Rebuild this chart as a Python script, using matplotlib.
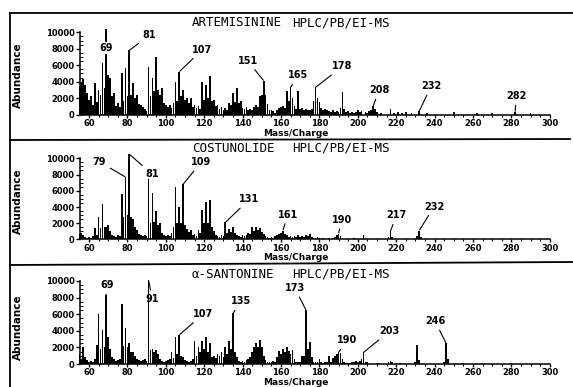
import matplotlib
matplotlib.use("Agg")
import matplotlib.pyplot as plt
from matplotlib.lines import Line2D
from matplotlib.ticker import MultipleLocator

# ------------------------- data -------------------------
mz_dense = list(range(55, 201))

art_dense = [3500, 4000, 4300, 3600, 2600, 1800, 2200, 1200, 3800, 1500,
             3000, 2400, 6300, 3200, 10400, 4800, 4400, 2200, 2600, 1000,
             1400, 900, 5100, 1600, 5600, 2200, 7800, 2400, 3800, 2000,
             2400, 1300, 1100, 900, 700, 400, 5800, 2200, 4500, 2800,
             7000, 3000, 2400, 3200, 1400, 1200, 900, 1100, 800, 1400,
             4000, 1700, 5200, 2200, 3000, 1800, 2000, 1400, 2000, 900,
             1200, 800, 1000, 700, 4000, 1800, 3600, 2000, 4700, 1600,
             1800, 1000, 1200, 700, 900, 600, 800, 600, 1400, 1200,
             2600, 1500, 3200, 1400, 1700, 800, 700, 900, 600, 700,
             500, 900, 1100, 900, 2200, 2400, 4100, 2400, 1300, 600,
             500, 400, 200, 600, 800, 900, 1000, 800, 2800, 1600,
             3300, 2000, 1000, 700, 2800, 700, 800, 600, 700, 500,
             600, 700, 1600, 3300, 2000, 1500, 800, 600, 700, 500,
             400, 300, 500, 300, 400, 300, 800, 2700, 700, 300,
             400, 200, 300, 200, 300, 500]
art_sparse_mz = [201, 202, 204, 205, 206, 207, 208, 209, 210, 212, 217, 219,
                 221, 223, 225, 228, 232, 236, 250, 262, 270, 282, 290]
art_sparse = [300, 400, 300, 200, 400, 600, 1000, 700, 300, 200, 700, 200,
              300, 200, 300, 200, 400, 200, 300, 200, 200, 300, 200]

cos_dense = [700, 800, 600, 300, 200, 300, 200, 400, 1400, 500,
             2800, 1400, 4400, 1500, 1600, 1800, 1000, 500, 400, 300,
             500, 400, 5600, 2800, 7700, 3000, 10500, 2800, 2500, 1500,
             1200, 700, 600, 400, 500, 400, 7500, 2000, 5700, 2200,
             3500, 1800, 2000, 800, 600, 400, 500, 400, 800, 1500,
             6500, 2000, 4000, 2000, 6800, 1800, 1300, 900, 1200, 500,
             700, 400, 1200, 800, 3600, 2000, 4600, 2000, 4900, 1500,
             1000, 500, 400, 300, 500, 400, 2100, 800, 1300, 900,
             1500, 800, 500, 400, 300, 500, 400, 600, 800, 700,
             1500, 1000, 1600, 1200, 1400, 900, 700, 400, 300, 200,
             300, 200, 400, 500, 700, 800, 1100, 700, 600, 300,
             400, 300, 400, 300, 500, 300, 400, 300, 600, 400,
             700, 300, 200, 200, 300, 200, 100, 200, 100, 100,
             200, 100, 200, 300, 500, 700, 400, 200, 100, 100,
             100, 100, 100, 200, 100, 100]
cos_sparse_mz = [203, 204, 210, 216, 217, 218, 224, 231, 232, 233, 240, 255, 270, 285]
cos_sparse = [500, 200, 100, 300, 1000, 300, 100, 400, 1100, 300, 100, 100, 100, 100]

san_dense = [1200, 600, 2000, 800, 500, 300, 400, 300, 600, 2300,
             6000, 1800, 4100, 2000, 8300, 3300, 1800, 800, 600, 400,
             500, 600, 7200, 2200, 4300, 2000, 2500, 1500, 1400, 1000,
             600, 500, 400, 500, 600, 400, 10100, 1700, 1800, 1500,
             1700, 1200, 600, 400, 300, 400, 500, 600, 1500, 700,
             3300, 1200, 3500, 1000, 900, 500, 400, 300, 400, 600,
             2800, 1000, 2000, 1500, 2800, 1800, 3300, 1500, 2500, 800,
             1000, 700, 1200, 1000, 1500, 800, 2000, 1200, 2800, 1800,
             6100, 1500, 800, 400, 300, 400, 300, 500, 600, 800,
             1500, 2000, 2500, 2000, 2900, 2000, 1000, 500, 300, 200,
             300, 400, 300, 800, 1600, 1200, 1800, 1500, 2000, 1600,
             1200, 1700, 600, 300, 200, 300, 1000, 1000, 6500, 1800,
             2600, 800, 300, 200, 300, 600, 200, 100, 200, 300,
             1000, 200, 700, 1000, 1200, 1400, 1300, 600, 200, 100,
             100, 100, 200, 300, 400, 300]
san_sparse_mz = [201, 202, 203, 204, 205, 210, 216, 217, 218, 222, 230, 231,
                 232, 245, 246, 247, 255, 265, 280]
san_sparse = [400, 600, 1400, 300, 200, 100, 300, 400, 200, 100, 200, 2300,
              500, 300, 2500, 600, 100, 100, 100]

compounds = ["ARTEMISININE", "COSTUNOLIDE", "\u03b1-SANTONINE"]
method = "HPLC/PB/EI-MS"
x_ticks = [60, 80, 100, 120, 140, 160, 180, 200, 220, 240, 260, 280, 300]
y_ticks = [0, 2000, 4000, 6000, 8000, 10000]

art_labels = [69, 81, 107, 151, 165, 178, 208, 232, 282]
cos_labels = [79, 81, 109, 131, 161, 190, 217, 232]
san_labels = [69, 91, 107, 135, 173, 190, 203, 246]

# ------------------------- layout -------------------------
W, H = 573, 387
fig = plt.figure(figsize=(W / 100, H / 100), dpi=100)
fig.patch.set_facecolor("white")

X_LEFT, X_RIGHT = 80, 550.3
XLIM = (55.3, 300.3)
panels = [  # baseline px, 10000 px, title y, abundance label y, mass label y
    dict(base=114.5, top=32.3, title=22.7, ylab=75, xlab=133.0),
    dict(base=239.5, top=158.3, title=148.3, ylab=201, xlab=258.0),
    dict(base=364.0, top=281.0, title=274.3, ylab=327, xlab=382.2),
]

offsets = [
    {69: (0, -19), 81: (20, 15), 107: (23, 22), 151: (-16, 20), 165: (7, 12),
     178: (27, 21), 208: (6, 16), 232: (12, 25), 282: (1, 16)},
    {79: (-26, 15), 81: (23, -20), 109: (18, 22), 131: (24, 23), 161: (5, 16),
     190: (3, 14), 217: (6, 16), 232: (15, 24)},
    {69: (1, 10), 91: (4, -19), 107: (24, 21), 135: (8, 12), 173: (-11, 22),
     190: (8, 12), 203: (26, 21), 246: (-11, 22)},
]

spectra = [
    (mz_dense + art_sparse_mz, art_dense + art_sparse, art_labels),
    (mz_dense + cos_sparse_mz, cos_dense + cos_sparse, cos_labels),
    (mz_dense + san_sparse_mz, san_dense + san_sparse, san_labels),
]

tick_font = dict(family="DejaVu Sans", weight="bold", size=6.0)

for i, (p, (mz, ab, labs)) in enumerate(zip(panels, spectra)):
    ax = fig.add_axes([X_LEFT / W, 1 - p["base"] / H,
                       (X_RIGHT - X_LEFT) / W, (p["base"] - p["top"]) / H])
    ax.patch.set_alpha(0)
    bars = ax.bar(mz, ab, width=0.9, color="black", linewidth=0, zorder=2)
    for b in bars:
        b.set_clip_on(False)
    ax.set_xlim(*XLIM)
    ax.set_ylim(0, 10000)
    ax.spines["top"].set_visible(False)
    ax.spines["right"].set_visible(False)
    ax.spines["left"].set_bounds(0, 10000)
    for s in ("left", "bottom"):
        ax.spines[s].set_linewidth(1.1)
    ax.set_xticks(x_ticks)
    ax.set_xticklabels([str(t) for t in x_ticks], **tick_font)
    ax.set_yticks(y_ticks)
    ax.set_yticklabels([str(t) for t in y_ticks], **tick_font)
    ax.xaxis.set_minor_locator(MultipleLocator(5))
    ax.yaxis.set_minor_locator(MultipleLocator(500))
    ax.tick_params(axis="x", which="major", direction="out", length=2, width=1, pad=1)
    ax.tick_params(axis="x", which="minor", direction="out", length=1.3, width=0.8)
    ax.tick_params(axis="y", which="major", direction="out", length=3, width=1, pad=1)
    ax.tick_params(axis="y", which="minor", direction="in", length=2, width=0.7)

    lookup = dict(zip(mz, ab))
    for lab in labs:
        dx, dy = offsets[i][lab]
        if i == 0 and lab == 69:
            ax.annotate(str(lab), xy=(lab, lookup[lab]), xytext=(dx, dy),
                        textcoords="offset pixels", ha="center", va="center",
                        fontfamily="DejaVu Sans", fontweight="bold", fontsize=7,
                        bbox=dict(fc="white", ec="none", pad=0.6),
                        annotation_clip=False, zorder=4)
        else:
            ax.annotate(str(lab), xy=(lab, lookup[lab]), xytext=(dx, dy),
                        textcoords="offset pixels", ha="center", va="center",
                        fontfamily="DejaVu Sans", fontweight="bold", fontsize=7,
                        arrowprops=dict(arrowstyle="-", lw=0.8, color="black",
                                        shrinkA=1, shrinkB=0.5),
                        annotation_clip=False, zorder=4)

    fig.text(192 / W, 1 - p["title"] / H, compounds[i], ha="left", va="center",
             fontfamily="DejaVu Sans Mono", fontsize=9)
    fig.text(291.7 / W, 1 - p["title"] / H, method, ha="left", va="center",
             fontfamily="DejaVu Sans Mono", fontsize=9)
    fig.text(18 / W, 1 - p["ylab"] / H, "Abundance", rotation=90, ha="center",
             va="center", fontfamily="DejaVu Sans", fontweight="bold", fontsize=7.5)
    fig.text(296 / W, 1 - p["xlab"] / H, "Mass/Charge", ha="center", va="center",
             fontfamily="DejaVu Sans", fontweight="bold", fontsize=6.5)

# frame lines
def fline(x0, y0, x1, y1, lw=1.3):
    fig.add_artist(Line2D([x0 / W, x1 / W], [1 - y0 / H, 1 - y1 / H],
                          transform=fig.transFigure, color="black", lw=lw))

fline(10, 13, 573, 13)
fline(10, 13, 10, 387)
fline(10, 140, 570, 139)
fline(10, 265, 573, 262)

fig.savefig("out.png", dpi=100, facecolor="white")
